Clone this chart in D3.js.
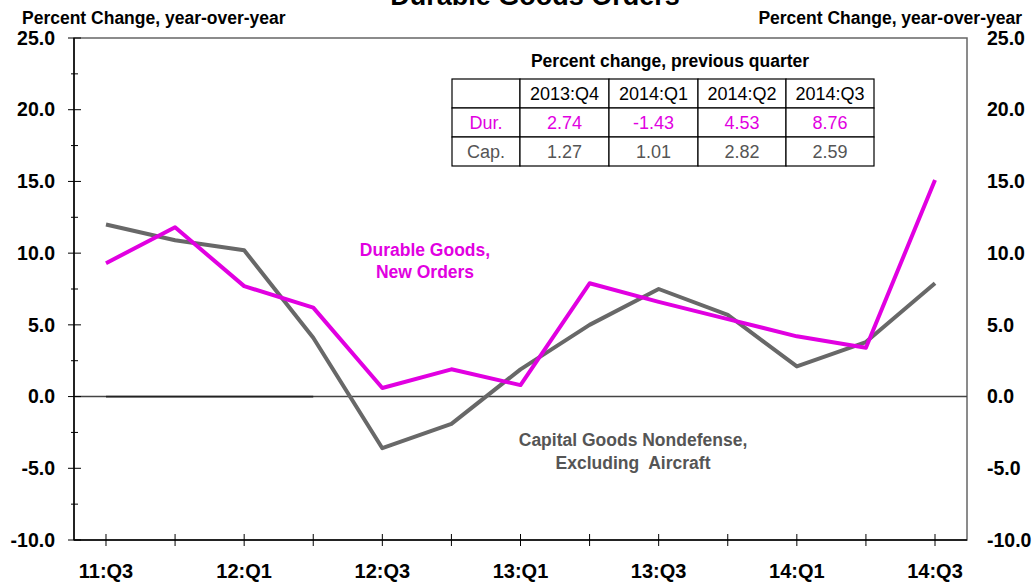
<!DOCTYPE html>
<html>
<head>
<meta charset="utf-8">
<script src="https://cdn.jsdelivr.net/npm/d3@7"></script>
<style>
  body { margin: 0; background: #fff; }
  svg { font-family: "Liberation Sans", Arial, sans-serif; }
  .tickLbl { font-size: 19.5px; font-weight: bold; }
  .xLbl { font-size: 20px; font-weight: bold; }
</style>
</head>
<body>
<div id="chart"></div>
<script>
// quarters on the x axis
var quarters = ["11:Q3", "11:Q4", "12:Q1", "12:Q2", "12:Q3", "12:Q4", "13:Q1",
  "13:Q2", "13:Q3", "13:Q4", "14:Q1", "14:Q2", "14:Q3"];

// Durable goods, new orders (% y/y)
var durable = [9.3, 11.8, 7.7, 6.2, 0.6, 1.9, 0.8, 7.9, 6.6, 5.4, 4.2, 3.4, 15.1];

// Capital goods nondefense ex aircraft (% y/y)
var capital = [12.0, 10.9, 10.2, 4.1, -3.6, -1.9, 1.9, 5.0, 7.5, 5.7, 2.1, 3.8, 7.9];

// dark stub on the zero line (first four quarters)
var zeroStub = [0, 0, 0, 0];

var yTicks = [-10, -5, 0, 5, 10, 15, 20, 25];
var yMinor = [-7.5, -2.5, 2.5, 7.5, 12.5, 17.5, 22.5];
var xLabelled = ["11:Q3", "12:Q1", "12:Q3", "13:Q1", "13:Q3", "14:Q1", "14:Q3"];

// inset table
var tblCols = ["", "2013:Q4", "2014:Q1", "2014:Q2", "2014:Q3"];
var tblDur = ["Dur.", "2.74", "-1.43", "4.53", "8.76"];
var tblCap = ["Cap.", "1.27", "1.01", "2.82", "2.59"];

var width = 1036, height = 582;
var pLeft = 74, pRight = 967, pTop = 38, pBottom = 540;
var magenta = "#e100e1", grey = "#686868";

var svg = d3.select("#chart").append("svg")
  .attr("width", width).attr("height", height);

var x = d3.scalePoint().domain(quarters).range([pLeft, pRight]).padding(0.463);
var y = d3.scaleLinear().domain([-10, 25]).range([pBottom, pTop]);

// plain hyphen minus, one decimal
function fmt(d) { return d.toFixed(1); }

// plot frame
svg.append("rect")
  .attr("x", pLeft).attr("y", pTop)
  .attr("width", pRight - pLeft).attr("height", pBottom - pTop)
  .attr("fill", "none").attr("stroke", "#666").attr("stroke-width", 1.5);
svg.append("line")
  .attr("x1", pLeft).attr("x2", pLeft).attr("y1", pTop).attr("y2", pBottom)
  .attr("stroke", "#000").attr("stroke-width", 1.5);
svg.append("line")
  .attr("x1", pLeft).attr("x2", pRight).attr("y1", pBottom).attr("y2", pBottom)
  .attr("stroke", "#000").attr("stroke-width", 1.5);

// zero line
svg.append("line")
  .attr("x1", pLeft).attr("x2", pRight).attr("y1", y(0)).attr("y2", y(0))
  .attr("stroke", "#444").attr("stroke-width", 1.5);

// left axis
var yAxisL = d3.axisLeft(y).tickValues(yTicks).tickSize(0)
  .tickPadding(19).tickFormat(fmt);
var gL = svg.append("g").attr("transform", "translate(" + pLeft + ",0)").call(yAxisL);
gL.select(".domain").remove();
gL.selectAll("text").attr("class", "tickLbl").attr("fill", "#000");

// right axis
var yAxisR = d3.axisRight(y).tickValues(yTicks).tickSize(0)
  .tickPadding(20).tickFormat(fmt);
var gR = svg.append("g").attr("transform", "translate(" + pRight + ",0)").call(yAxisR);
gR.select(".domain").remove();
gR.selectAll("text").attr("class", "tickLbl").attr("fill", "#000");

// crossing tick marks on left axis
svg.selectAll(".majT").data(yTicks).enter().append("line")
  .attr("x1", pLeft - 6).attr("x2", pLeft + 7)
  .attr("y1", function(d) { return y(d); }).attr("y2", function(d) { return y(d); })
  .attr("stroke", "#000");
svg.selectAll(".minT").data(yMinor).enter().append("line")
  .attr("x1", pLeft - 3).attr("x2", pLeft + 4)
  .attr("y1", function(d) { return y(d); }).attr("y2", function(d) { return y(d); })
  .attr("stroke", "#000");

// x ticks
svg.selectAll(".xT").data(quarters).enter().append("line")
  .attr("x1", function(d) { return x(d); }).attr("x2", function(d) { return x(d); })
  .attr("y1", pBottom - 6).attr("y2", pBottom + 6)
  .attr("stroke", "#000");

svg.selectAll(".xLbl").data(xLabelled).enter().append("text")
  .attr("class", "xLbl")
  .attr("x", function(d) { return x(d); })
  .attr("y", 578)
  .attr("text-anchor", "middle")
  .text(function(d) { return d; });

// titles
svg.append("text").attr("x", 535).attr("y", 5)
  .attr("text-anchor", "middle").attr("font-size", 27).attr("font-weight", "bold")
  .text("Durable Goods Orders");
svg.append("text").attr("x", 22).attr("y", 24)
  .attr("font-size", 17.5).attr("font-weight", "bold")
  .text("Percent Change, year-over-year");
svg.append("text").attr("x", 1022).attr("y", 24)
  .attr("text-anchor", "end").attr("font-size", 17.5).attr("font-weight", "bold")
  .text("Percent Change, year-over-year");

// lines
var line = d3.line()
  .x(function(d, i) { return x(quarters[i]); })
  .y(function(d) { return y(d); });

svg.append("path").datum(zeroStub)
  .attr("d", line).attr("fill", "none")
  .attr("stroke", "#222").attr("stroke-width", 1.8);
svg.append("path").datum(capital)
  .attr("d", line).attr("fill", "none")
  .attr("stroke", grey).attr("stroke-width", 4).attr("stroke-linejoin", "round");
svg.append("path").datum(durable)
  .attr("d", line).attr("fill", "none")
  .attr("stroke", magenta).attr("stroke-width", 4).attr("stroke-linejoin", "round");

// annotations
svg.append("text").attr("x", 425).attr("y", 256)
  .attr("text-anchor", "middle").attr("font-size", 17.5).attr("font-weight", "bold")
  .attr("fill", magenta)
  .selectAll("tspan").data(["Durable Goods,", "New Orders"]).enter().append("tspan")
  .attr("x", 425).attr("dy", function(d, i) { return i ? 22 : 0; })
  .text(function(d) { return d; });

svg.append("text").attr("x", 633).attr("y", 446)
  .attr("text-anchor", "middle").attr("font-size", 17.5).attr("font-weight", "bold")
  .attr("fill", "#555")
  .selectAll("tspan").data(["Capital Goods Nondefense,", "Excluding  Aircraft"]).enter().append("tspan")
  .attr("x", 633).attr("dy", function(d, i) { return i ? 23 : 0; })
  .attr("xml:space", "preserve")
  .text(function(d) { return d; });

// inset table
var tY = 79, rowH = 29;
var colX = [452, 520, 609, 698, 786, 874];

svg.append("text").attr("x", 670).attr("y", 67)
  .attr("text-anchor", "middle").attr("font-size", 17.5).attr("font-weight", "bold")
  .text("Percent change, previous quarter");

var rows = [{ cells: tblCols, color: "#000" },
  { cells: tblDur, color: magenta },
  { cells: tblCap, color: "#555" }];

rows.forEach(function(r, ri) {
  r.cells.forEach(function(c, ci) {
    svg.append("rect")
      .attr("x", colX[ci]).attr("y", tY + ri * rowH)
      .attr("width", colX[ci + 1] - colX[ci]).attr("height", rowH)
      .attr("fill", "#fff").attr("stroke", "#000").attr("stroke-width", 1.2);
    svg.append("text")
      .attr("x", (colX[ci] + colX[ci + 1]) / 2)
      .attr("y", tY + ri * rowH + 21)
      .attr("text-anchor", "middle").attr("font-size", 18)
      .attr("fill", r.color)
      .text(c);
  });
});
</script>
</body>
</html>
